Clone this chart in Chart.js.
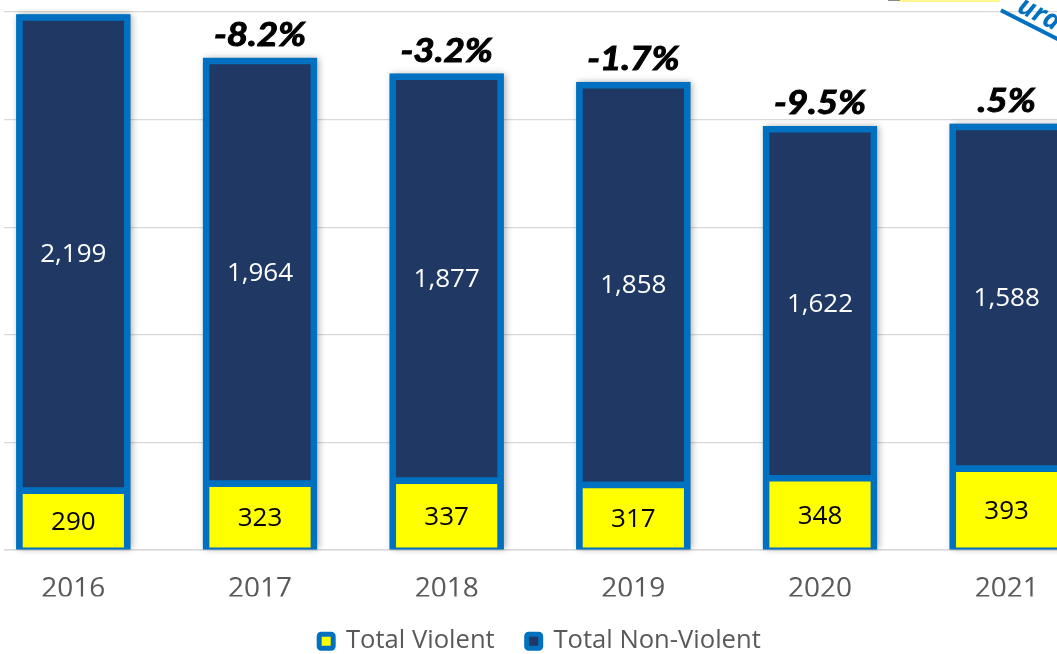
<!DOCTYPE html>
<html><head><meta charset="utf-8">
<script src="https://cdn.jsdelivr.net/npm/chart.js@4.4.1/dist/chart.umd.min.js"></script>
<style>
html,body{margin:0;padding:0;width:1057px;height:654px;overflow:hidden;background:#fff;}
#wrap{position:absolute;left:-20px;top:0;width:1120px;height:664px;}
#band{position:absolute;left:900px;top:0;width:100px;height:2px;background:#FFF68F;}
#gray{position:absolute;left:888px;top:0;width:12px;height:1px;background:#8a8a8a;}
#logo{position:absolute;left:1000px;top:-26px;width:90px;height:38px;transform-origin:0 100%;transform:rotate(27deg);
 border-bottom:4px solid #0070C0;color:#0070C0;font:bold italic 27px "Open Sans";line-height:40px;padding-left:14px;box-sizing:border-box;}
</style></head><body>
<div id="wrap"><canvas id="c" width="1120" height="664" style="width:1120px;height:664px"></canvas></div>
<div id="gray"></div><div id="band"></div><div id="logo">ura</div>
<script>
const years = ['2016', '2017', '2018', '2019', '2020', '2021'];
const violent = [290, 323, 337, 317, 348, 393];
const nonViolent = [2199, 1964, 1877, 1858, 1622, 1588];
const changeLabels = ['', '-8.2%', '-3.2%', '-1.7%', '-9.5%', '.5%'];
const seriesNames = ['Total Violent', 'Total Non-Violent'];

const BLUE = '#0070C0', NAVY = '#203864', YELLOW = '#FFFF00';

const labelPlugin = {
  id: 'labels',
  beforeDatasetsDraw(chart) {
    const ctx = chart.ctx;
    const m0 = chart.getDatasetMeta(0), m1 = chart.getDatasetMeta(1);
    ctx.save();
    ctx.fillStyle = '#fff';
    ctx.fillRect(0, 0, 24, chart.chartArea.bottom + 3);
    ctx.shadowColor = 'rgba(0,0,0,0.35)';
    ctx.shadowBlur = 7;
    ctx.shadowOffsetX = 2;
    ctx.fillStyle = BLUE;
    m1.data.forEach((el, i) => {
      const b = m0.data[i].base;
      const w = el.width;
      ctx.fillRect(el.x - w / 2, el.y, w, b - el.y);
    });
    ctx.restore();
  },
  afterDatasetsDraw(chart) {
    const ctx = chart.ctx;
    const m0 = chart.getDatasetMeta(0), m1 = chart.getDatasetMeta(1);
    ctx.save();
    ctx.textAlign = 'center';
    ctx.textBaseline = 'middle';
    ctx.font = '26px "Open Sans"';
    m0.data.forEach((el, i) => {
      ctx.fillStyle = '#000';
      ctx.fillText(violent[i].toLocaleString('en-US'), el.x, (el.y + el.base) / 2 + 4);
    });
    m1.data.forEach((el, i) => {
      ctx.fillStyle = '#fff';
      ctx.fillText(nonViolent[i].toLocaleString('en-US'), el.x, (el.y + el.base) / 2 + 4);
    });
    ctx.font = 'italic bold 32px Lato';
    ctx.textBaseline = 'alphabetic';
    ctx.fillStyle = '#000';
    ctx.strokeStyle = '#000';
    ctx.lineWidth = 1;
    m1.data.forEach((el, i) => {
      if (!changeLabels[i]) return;
      ctx.save();
      ctx.translate(el.x, el.y - 12);
      ctx.scale(1.15, 1);
      ctx.fillText(changeLabels[i], 0, 0);
      ctx.strokeText(changeLabels[i], 0, 0);
      ctx.restore();
    });
    ctx.restore();
  }
};

new Chart(document.getElementById('c'), {
  type: 'bar',
  data: {
    labels: years,
    datasets: [
      { label: seriesNames[0], data: violent, backgroundColor: YELLOW, borderColor: BLUE,
        borderWidth: { top: 6.5, left: 6.5, right: 6.5, bottom: 2 }, borderSkipped: false },
      { label: seriesNames[1], data: nonViolent, backgroundColor: NAVY, borderColor: BLUE,
        borderWidth: 6.5, borderSkipped: 'start' }
    ]
  },
  options: {
    responsive: false,
    animation: false,
    layout: { padding: { top: 12, left: 0, right: 0, bottom: 0 } },
    datasets: { bar: { barPercentage: 0.612, categoryPercentage: 1 } },
    scales: {
      x: {
        stacked: true,
        grid: { display: false, drawTicks: false },
        border: { display: true, color: '#D9D9D9', width: 1.5 },
        ticks: { font: { family: 'Open Sans', size: 28 }, color: '#595959', padding: 22 },
        afterFit(s) { s.height = 46.4; }
      },
      y: {
        stacked: true, min: 0, max: 2500,
        ticks: { display: false, stepSize: 500 },
        grid: { color: '#D9D9D9', drawTicks: false, lineWidth: 1.2 },
        border: { display: false }
      }
    },
    plugins: {
      tooltip: { enabled: false },
      legend: {
        position: 'bottom',
        labels: {
          boxWidth: 14, boxHeight: 14, padding: 32, color: '#595959',
          font: { family: 'Open Sans', size: 25.6 },
          useBorderRadius: true, borderRadius: 2,
          generateLabels(chart) {
            return chart.data.datasets.map((ds, i) => ({
              text: ds.label, fillStyle: ds.backgroundColor, strokeStyle: BLUE, lineWidth: 5,
              hidden: false, datasetIndex: i, borderRadius: 2, fontColor: '#595959'
            }));
          }
        }
      }
    }
  },
  plugins: [labelPlugin]
});
</script>
</body></html>
